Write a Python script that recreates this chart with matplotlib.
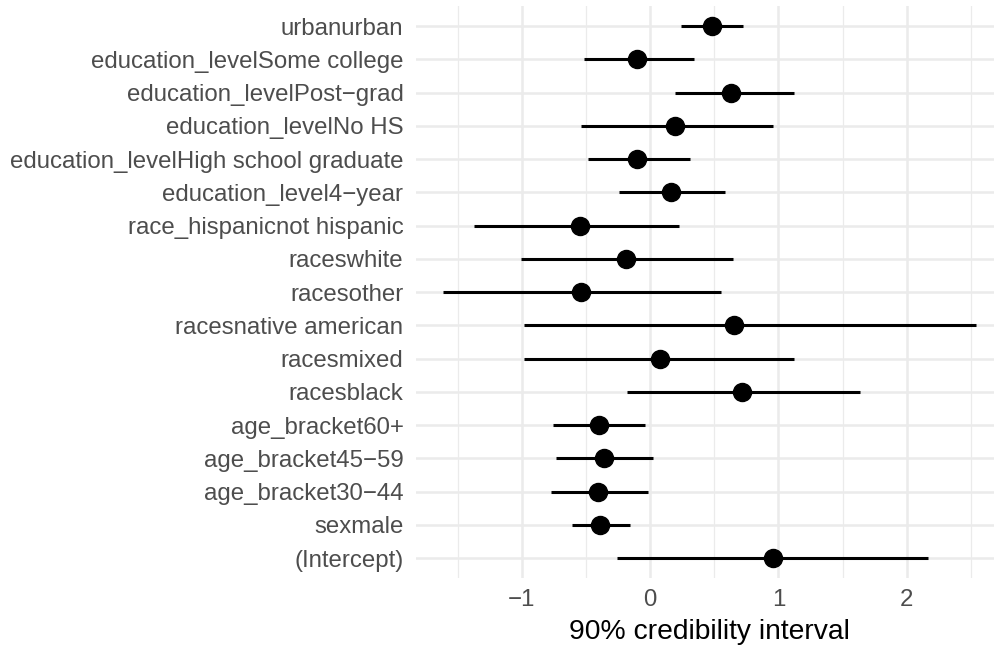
import numpy as np
import matplotlib
matplotlib.use('Agg')
import matplotlib.pyplot as plt

# terms, bottom to top as drawn
terms = ['(Intercept)', 'sexmale', 'age_bracket30\u221244', 'age_bracket45\u221259',
         'age_bracket60+', 'racesblack', 'racesmixed', 'racesnative american',
         'racesother', 'raceswhite', 'race_hispanicnot hispanic',
         'education_level4\u2212year', 'education_levelHigh school graduate',
         'education_levelNo HS', 'education_levelPost\u2212grad',
         'education_levelSome college', 'urbanurban']
est = [0.958, -0.389, -0.410, -0.361, -0.402, 0.716, 0.073, 0.655,
       -0.536, -0.192, -0.550, 0.163, -0.102, 0.190, 0.634, -0.102, 0.483]
lower = [-0.256, -0.608, -0.777, -0.736, -0.757, -0.178, -0.984, -0.984,
         -1.619, -1.004, -1.374, -0.244, -0.486, -0.538, 0.190, -0.515, 0.244]
upper = [2.166, -0.160, -0.020, 0.020, -0.044, 1.636, 1.123, 2.540,
         0.550, 0.644, 0.227, 0.585, 0.314, 0.960, 1.118, 0.343, 0.725]

plt.rcParams['font.family'] = ['Liberation Sans', 'DejaVu Sans']

fig = plt.figure(figsize=(9.95, 6.47), dpi=100)
ax = fig.add_axes([0.418, 0.1066, 0.5896, 0.884])

y = np.arange(len(terms))
ax.hlines(y, lower, upper, color='black', linewidth=2.2, zorder=3)
ax.plot(est, y, 'o', color='black', markersize=13, zorder=4)

lo, hi = min(lower), max(upper)
pad = 0.05 * (hi - lo)
ax.set_xlim(lo - pad, hi + pad)
ax.set_ylim(-0.6, len(terms) - 0.4)

ax.set_xticks([-1, 0, 1, 2])
ax.set_xticks([-1.5, -0.5, 0.5, 1.5, 2.5], minor=True)
ax.set_yticks(y)
ax.set_yticklabels(terms)

ax.grid(True, which='major', color='#EBEBEB', linewidth=1.8, zorder=0)
ax.grid(True, which='minor', axis='x', color='#EBEBEB', linewidth=0.9, zorder=0)
ax.set_axisbelow(True)
for s in ax.spines.values():
    s.set_visible(False)
ax.tick_params(which='both', length=0)
ax.tick_params(axis='both', labelsize=17.3, labelcolor='#4D4D4D')
ax.tick_params(axis='y', pad=9)
ax.tick_params(axis='x', pad=8)

ax.set_xlabel('90% credibility interval', fontsize=20.3, color='black', labelpad=6)

fig.savefig('out.png', dpi=100)
